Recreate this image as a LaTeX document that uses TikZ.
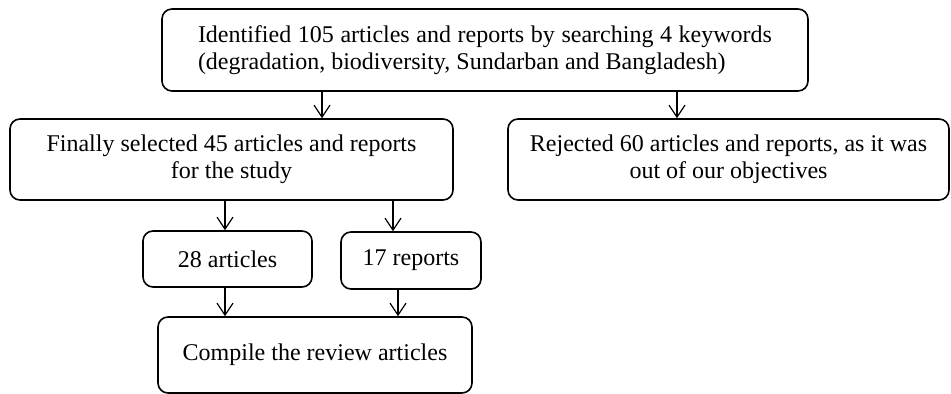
\documentclass[tikz,border=0pt]{standalone}
\usepackage{fontspec}
\setmainfont{Liberation Serif}
\usetikzlibrary{arrows.meta,positioning}

\tikzset{
  box/.style = {draw, line width=0.8pt, rounded corners=5pt, align=center,
                inner sep=0pt, font=\fontsize{12}{13.5}\selectfont},
  arr/.style = {-{Straight Barb[length=6pt,width=8pt]}, line width=0.6pt}
}

\begin{document}
\begin{tikzpicture}[x = 0.5pt, y = -0.5pt]
\useasboundingbox (0,0) rectangle (951,394);
% boxes
\node[box, minimum width=323pt, minimum height=41pt, align=justify,
      text width=287pt] (search) at (485,50)
  {Identified 105 articles and reports by searching 4 keywords\linebreak
   (degradation, biodiversity, Sundarban and Bangladesh)};
\node[box, minimum width=221.5pt, minimum height=40.5pt] (selected) at (231.5,159.5)
  {Finally selected 45 articles and reports\\for the study};
\node[box, minimum width=220.5pt, minimum height=40.5pt] (rejected) at (728.5,159.5)
  {Rejected 60 articles and reports, as it was\\out of our objectives};
\node[box, minimum width=84.5pt, minimum height=28pt] (articles) at (227.5,259) {28 articles};
\node[box, minimum width=70pt, minimum height=28.5pt] (reports) at (411,260.5) {17 reports};
\node[box, minimum width=157pt, minimum height=38pt] (review) at (315,355)
  {Compile the review articles};
% arrows
\draw[arr] (search.south -| 322,0) -- (selected.north -| 322,0);
\draw[arr] (search.south -| 677,0) -- (rejected.north -| 677,0);
\draw[arr] (selected.south -| 225,0) -- (articles.north -| 225,0);
\draw[arr] (selected.south -| 393,0) -- (reports.north -| 393,0);
\draw[arr] (articles.south -| 225,0) -- (review.north -| 225,0);
\draw[arr] (reports.south -| 398,0) -- (review.north -| 398,0);
\end{tikzpicture}
\end{document}
